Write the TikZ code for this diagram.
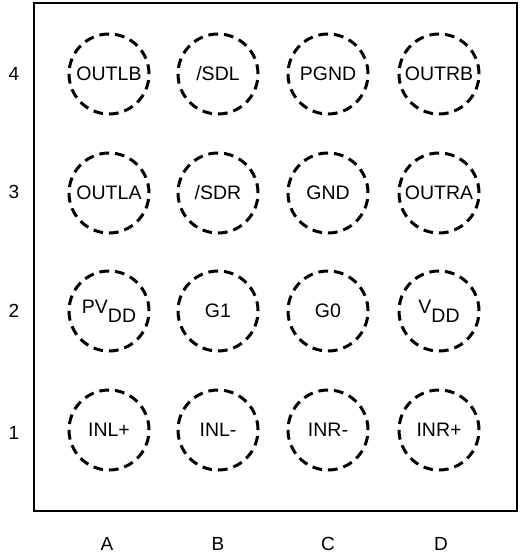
\documentclass[tikz,border=0pt]{standalone}
\usepackage{fontspec}
\setmainfont{Liberation Sans}
\newcommand{\subdd}{\raisebox{-9pt}{DD}}
\begin{document}
\begin{tikzpicture}[x=1pt,y=-1pt,
  pin/.style={circle,draw,dash pattern=on 9.7pt off 6pt,line width=3pt,minimum size=80pt,inner sep=0pt,font=\fontsize{19.5}{19.5}\selectfont},
  axislabel/.style={font=\fontsize{19}{19}\selectfont,inner sep=0pt}]
\useasboundingbox (0,0) rectangle (521,556);
\draw[line width=2.2pt] (34,3) rectangle (517,511);
\node[pin] (A4) at (109,74) {OUTLB};
\node[pin] (B4) at (218,74) {/SDL};
\node[pin] (C4) at (328,74) {PGND};
\node[pin] (D4) at (439,74) {OUTRB};
\node[pin] (A3) at (109,193) {OUTLA};
\node[pin] (B3) at (218,193) {/SDR};
\node[pin] (C3) at (328,193) {GND};
\node[pin] (D3) at (439,193) {OUTRA};
\node[pin] (A2) at (109,311) {PV\subdd};
\node[pin] (B2) at (218,311) {G1};
\node[pin] (C2) at (328,311) {G0};
\node[pin] (D2) at (439,311) {V\subdd};
\node[pin] (A1) at (109,430) {INL+};
\node[pin] (B1) at (218,430) {INL-};
\node[pin] (C1) at (328,430) {INR-};
\node[pin] (D1) at (439,430) {INR+};
\node[axislabel] (r4) at (14,74) {4};
\node[axislabel] (r3) at (14,192) {3};
\node[axislabel] (r2) at (14,311) {2};
\node[axislabel] (r1) at (14,433) {1};
\node[axislabel] (cA) at (107,544) {A};
\node[axislabel] (cB) at (218,544) {B};
\node[axislabel] (cC) at (328,544) {C};
\node[axislabel] (cD) at (441,544) {D};
\end{tikzpicture}
\end{document}
